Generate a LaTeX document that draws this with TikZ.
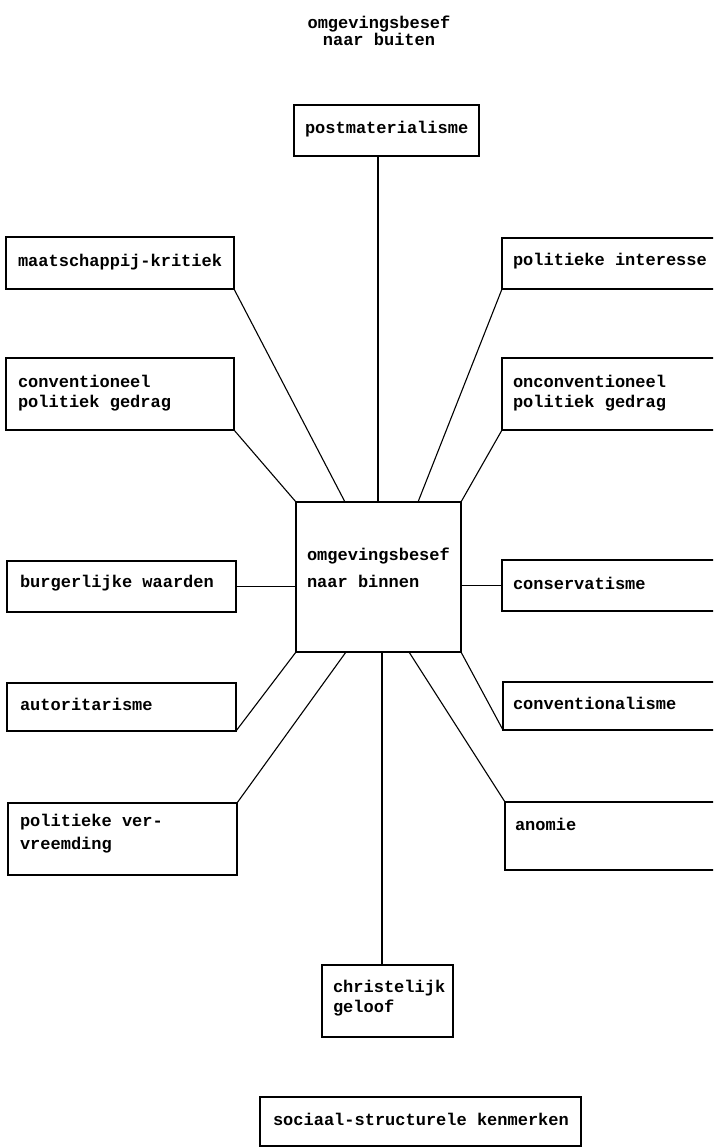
\documentclass[tikz,border=0pt]{standalone}
\usepackage{fontspec}
\setmonofont{Liberation Mono}
\usetikzlibrary{calc}
\tikzset{
  box/.style={draw, line width=1.2pt, inner sep=0pt, outer sep=0pt, anchor=north west},
  txt/.style={inner sep=0pt, outer sep=0pt, anchor=west, align=left,
    font=\ttfamily\bfseries\fontsize{17}{20}\selectfont},
  conn/.style={line width=1.1pt},
}
\newcommand{\bx}[5]{\node[box, minimum width=#4pt-#2pt, minimum height=#5pt-#3pt] (#1) at (#2,#3) {};}
\begin{document}
\begin{tikzpicture}[x=1pt,y=-1pt]
\useasboundingbox (0,0) rectangle (713,1148);
\clip (0,0) rectangle (713,1148);
% boxes
\bx{pm}{294}{105}{479}{156}
\bx{mk}{6}{237}{234}{289}
\bx{cpg}{6}{358}{234}{430}
\bx{pi}{502}{238}{740}{289}
\bx{opg}{502}{358}{740}{430}
\bx{c}{296}{502}{461}{652}
\bx{bw}{7}{561}{236}{612}
\bx{cons}{502}{560}{740}{611}
\bx{aut}{7}{683}{236}{731}
\bx{cvl}{503}{682}{740}{730}
\bx{pv}{8}{803}{237}{875}
\bx{an}{505}{802}{740}{870}
\bx{cg}{322}{965}{453}{1037}
\bx{sk}{260}{1097}{581}{1146}
% texts
\node[txt, anchor=center, align=center, font=\ttfamily\bfseries\fontsize{17}{17}\selectfont] (title) at (379,31) {omgevingsbesef\\ naar buiten};
\node[txt] (tpm) at (305,129) {postmaterialisme};
\node[txt] (tmk) at (18,262) {maatschappij-kritiek};
\node[txt] (tcpg) at (18,393) {conventioneel\\politiek gedrag};
\node[txt] (tpi) at (513,261) {politieke interesse};
\node[txt] (topg) at (513,393) {onconventioneel\\politiek gedrag};
\node[txt, font=\ttfamily\bfseries\fontsize{17}{27}\selectfont] (tc) at (307,568) {omgevingsbesef\\naar binnen};
\node[txt] (tbw) at (20,583) {burgerlijke waarden};
\node[txt] (tcons) at (513,583) {conservatisme};
\node[txt] (taut) at (20,704) {autoritarisme};
\node[txt] (tcvl) at (513,703) {conventionalisme};
\node[txt, font=\ttfamily\bfseries\fontsize{17}{23}\selectfont] (tpv) at (20,834) {politieke ver-\\vreemding};
\node[txt] (tan) at (515,824) {anomie};
\node[txt] (tcg) at (333,998) {christelijk\\geloof};
\node[txt] (tsk) at (273,1119) {sociaal-structurele kenmerken};
% connector end points on the central box
\coordinate (cn1) at ($(c.north west)+(49,0)$);
\coordinate (cn2) at ($(c.north west)+(82,0)$);
\coordinate (cn3) at ($(c.north west)+(122,0)$);
\coordinate (cs1) at ($(c.south west)+(50,0)$);
\coordinate (cs2) at ($(c.south west)+(86,0)$);
\coordinate (cs3) at ($(c.south west)+(113,0)$);
\coordinate (pmb) at (pm.south -| cn2);
\coordinate (cgt) at (cg.north -| cs2);
% connectors
\draw[conn] (pmb) -- (cn2);
\draw[conn] (mk.south east) -- (cn1);
\draw[conn] (cpg.south east) -- (c.north west);
\draw[conn] (pi.south west) -- (cn3);
\draw[conn] (opg.south west) -- (c.north east);
\draw[conn] (bw.east) -- (bw.east -| c.west);
\draw[conn] (c.east |- cons.west) -- (cons.west);
\draw[conn] (aut.south east) -- (c.south west);
\draw[conn] (pv.north east) -- (cs1);
\draw[conn] (c.south east) -- (cvl.south west);
\draw[conn] (cs3) -- (an.north west);
\draw[conn] (cs2) -- (cgt);
\end{tikzpicture}
\end{document}
